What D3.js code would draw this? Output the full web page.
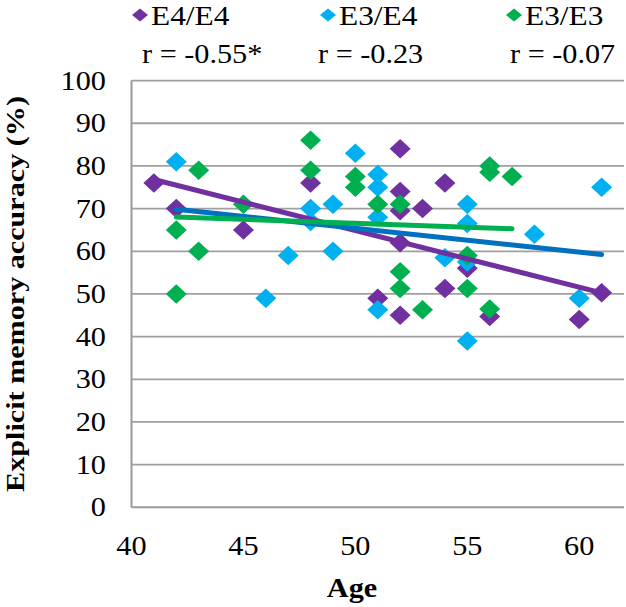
<!DOCTYPE html>
<html><head><meta charset="utf-8">
<script src="https://cdn.jsdelivr.net/npm/d3@7"></script>
<style>
body{margin:0;background:#fff}
svg text{font-family:"Liberation Serif","Times New Roman",Tinos,"DejaVu Serif","Noto Serif",serif;}
</style>
</head><body>
<svg id="chart" width="626" height="607"></svg>
<script>
// ---- data ----
const seriesNames = ["E4/E4", "E3/E4", "E3/E3"];
const rLabels = ["r = -0.55*", "r = -0.23", "r = -0.07"];

const e4e4Age = [41, 42, 45, 48, 51, 52, 52, 52, 52, 52, 53, 54, 54, 55, 56, 60, 61];
const e4e4Acc = [76, 70, 65, 76, 49, 84, 74, 69.5, 62, 45, 70, 76, 51.3, 56, 44.7, 44, 50.3];

const e3e4Age = [42, 46, 47, 48, 48, 49, 49, 50, 51, 51, 51, 51, 54, 55, 55, 55, 55, 58, 60, 61];
const e3e4Acc = [81, 49, 59, 70, 67, 71, 60, 83, 78, 75, 68, 46.3, 58.5, 71, 66.5, 57.5, 39, 64, 49, 75];

const e3e3Age = [42, 42, 43, 43, 45, 48, 48, 50, 50, 51, 52, 52, 52, 53, 55, 55, 56, 56, 56, 57];
const e3e3Acc = [65, 50, 79, 60, 71, 86, 79, 77.5, 75, 71, 71, 55.2, 51.3, 46.3, 59, 51.3, 80, 78.5, 46.5, 77.5];

const xTicks = [40, 45, 50, 55, 60];
const yTicks = [0, 10, 20, 30, 40, 50, 60, 70, 80, 90, 100];
const xTitle = "Age";
const yTitle = "Explicit memory accuracy (%)";

// ---- styles ----
const markerColors = ["#7030A0", "#00B0F0", "#00B050"];
const lineColors = ["#7030A0", "#0070C0", "#00B050"];
const SX = 1.12; // horizontal stretch of the original figure's text

const series = [
  {name: seriesNames[0], ages: e4e4Age, acc: e4e4Acc},
  {name: seriesNames[1], ages: e3e4Age, acc: e3e4Acc},
  {name: seriesNames[2], ages: e3e3Age, acc: e3e3Acc}
];

const svg = d3.select("#chart");
const x = d3.scaleLinear().domain([40, 62]).range([131.5, 624]);
const y = d3.scaleLinear().domain([0, 100]).range([507.3, 80.6]);

function stretch(sel) {
  sel.each(function() {
    const len = this.getComputedTextLength();
    d3.select(this).attr("textLength", len * SX).attr("lengthAdjust", "spacingAndGlyphs");
  });
  return sel;
}

// gridlines
svg.append("g").selectAll("line").data(yTicks.filter(d => d > 0)).join("line")
  .attr("x1", x(40)).attr("x2", x(62))
  .attr("y1", d => y(d)).attr("y2", d => y(d))
  .attr("stroke", "#A0A0A0").attr("stroke-width", 1.8);

// axes lines
svg.append("line").attr("x1", x(40)).attr("x2", x(40)).attr("y1", y(100)).attr("y2", y(0))
  .attr("stroke", "#9A9A9A").attr("stroke-width", 2);
svg.append("line").attr("x1", x(40)).attr("x2", x(62)).attr("y1", y(0)).attr("y2", y(0))
  .attr("stroke", "#9A9A9A").attr("stroke-width", 2);

// y tick labels
stretch(svg.append("g").selectAll("text").data(yTicks).join("text")
  .attr("x", 106).attr("y", d => y(d) + 9)
  .attr("text-anchor", "end").attr("font-size", 27).attr("fill", "#000").text(d => d));

// x tick labels
stretch(svg.append("g").selectAll("text").data(xTicks).join("text")
  .attr("x", d => x(d)).attr("y", 555)
  .attr("text-anchor", "middle").attr("font-size", 27).attr("fill", "#000").text(d => d));

// axis titles
stretch(svg.append("text").attr("x", 352).attr("y", 597)
  .attr("text-anchor", "middle").attr("font-size", 27).attr("font-weight", "bold")
  .attr("fill", "#000").text(xTitle));
svg.append("text")
  .attr("transform", `translate(24,${(y(0) + y(100)) / 2}) rotate(-90)`)
  .attr("fill", "#000")
  .attr("text-anchor", "middle").attr("font-size", 26).attr("font-weight", "bold")
  .attr("textLength", 396).attr("lengthAdjust", "spacingAndGlyphs").text(yTitle);

// markers
const diamond = (cx, cy, w, h) => `M${cx},${cy - h/2}L${cx + w/2},${cy}L${cx},${cy + h/2}L${cx - w/2},${cy}Z`;
series.forEach((s, i) => {
  svg.append("g").selectAll("path").data(s.ages.map((a, j) => [a, s.acc[j]])).join("path")
    .attr("d", d => diamond(x(d[0]), y(d[1]), 21, 19.5))
    .attr("fill", markerColors[i]);
});

// linear trend lines (least squares)
series.forEach((s, i) => {
  const n = s.ages.length;
  const mx = d3.mean(s.ages), my = d3.mean(s.acc);
  let sxy = 0, sxx = 0;
  for (let j = 0; j < n; j++) { sxy += (s.ages[j] - mx) * (s.acc[j] - my); sxx += (s.ages[j] - mx) ** 2; }
  const b = sxy / sxx, a = my - b * mx;
  const [x0, x1] = d3.extent(s.ages);
  svg.append("line")
    .attr("x1", x(x0)).attr("y1", y(a + b * x0))
    .attr("x2", x(x1)).attr("y2", y(a + b * x1))
    .attr("stroke", lineColors[i]).attr("stroke-width", 5).attr("stroke-linecap", "round");
});

// legend
const legendX = [140, 328, 514];
const rX = [142, 318, 510];
series.forEach((s, i) => {
  svg.append("path").attr("d", diamond(legendX[i], 15, 16, 13)).attr("fill", markerColors[i]);
  stretch(svg.append("text").attr("x", legendX[i] + 11).attr("y", 25)
    .attr("font-size", 28).attr("fill", "#000").text(s.name));
  stretch(svg.append("text").attr("x", rX[i]).attr("y", 63)
    .attr("font-size", 27).attr("fill", "#000").text(rLabels[i]));
});
</script>
</body></html>
